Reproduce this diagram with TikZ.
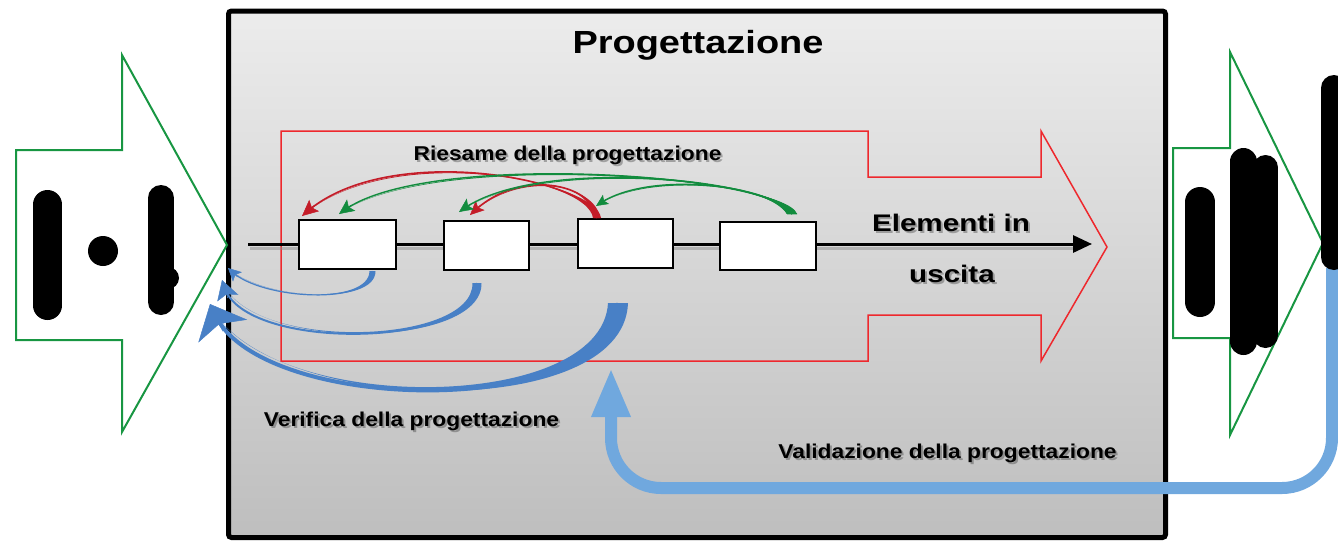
\documentclass[tikz,border=0pt]{standalone}
\usepackage{fontspec}
\setmainfont{Liberation Sans}
\usetikzlibrary{arrows.meta,calc}
\definecolor{gtop}{RGB}{236,236,236}
\definecolor{gbot}{RGB}{190,190,190}
\definecolor{outgreen}{RGB}{24,150,66}
\definecolor{outred}{RGB}{238,40,45}
\definecolor{arred}{RGB}{196,28,40}
\definecolor{argreen}{RGB}{18,140,62}
\definecolor{verblue}{RGB}{72,128,198}
\definecolor{valblue}{RGB}{112,168,222}
\tikzset{
  stepbox/.style={draw=black, line width=2pt, fill=white, inner sep=0pt},
  lbl/.style={font=\bfseries\fontsize{20}{22}\selectfont, xscale=1.14, inner sep=0pt, anchor=base},
  biglbl/.style={font=\bfseries\fontsize{24}{26}\selectfont, xscale=1.234, inner sep=0pt, anchor=base},
  titlelbl/.style={font=\bfseries\fontsize{32}{34}\selectfont, xscale=1.186, inner sep=0pt, anchor=base},
  blob/.style={black, line cap=round},
  outarrow/.style={draw=outgreen, line width=2pt, fill=white, line join=miter},
  redout/.style={draw=outred, line width=1.5pt},
  rarr/.style={arred, fill=arred, line width=1.6pt},
  garr/.style={argreen, fill=argreen, line width=1.4pt},
  varr/.style={verblue, fill=verblue},
}
% tapered curved arrow: style, s1, s2, c1a, c1b, c2, tip, head spec, head length
\newcommand\taparrow[9]{%
  \fill[#1] (#2) .. controls (#4) and (#6) .. (#7) .. controls (#6) and (#5) .. (#3) -- cycle;
  \draw[#1, fill=none, shorten >=0.4*#9pt] ($(#2)!.5!(#3)$) .. controls ($(#4)!.5!(#5)$) and (#6) .. (#7);
  \draw[#1, line width=0.5pt, -{#8}] ($(#7)!#9pt!(#6)$) -- (#7);}
\newcommand\shadowlabel[4]{%
  \node[#2, text=black, opacity=0.28] at ($(#3)+(2,2.5)$) {#4};
  \node[#2] (#1) at (#3) {#4};}
\begin{document}
\begin{tikzpicture}[x=1pt,y=-1pt]
\useasboundingbox (0,0) rectangle (1338,541);

% main grey panel
\path[top color=gtop, bottom color=gbot] (228.5,11) rectangle (1165.5,537.5);
\draw[line width=5pt, rounded corners=3pt] (228.5,11) rectangle (1165.5,537.5);

\node[titlelbl] (title) at (698,53) {Progettazione};

% red outline arrow
\draw[redout] (281,131) -- (868,131) -- (868,177) -- (1041,177) -- (1041,131) -- (1107,247)
  -- (1041,361) -- (1041,315) -- (868,315) -- (868,361) -- (281,361) -- cycle;

% main line
\coordinate (ls) at (248,244);
\coordinate (le) at (1092,244);
\draw[line width=3pt, black!45, opacity=0.5] (250,248.5) -- (1080,248.5);
\draw[line width=3pt, -{Triangle[length=19pt,width=17pt]}] (ls) -- (le);

% process boxes
\node[stepbox, minimum width=97pt, minimum height=49pt] (b1) at (347.5,244.5) {};
\node[stepbox, minimum width=85pt, minimum height=49pt] (b2) at (486.5,245.5) {};
\node[stepbox, minimum width=95pt, minimum height=49pt] (b3) at (625,243.5) {};
\node[stepbox, minimum width=96pt, minimum height=48pt] (b4) at (768,246) {};

% Riesame arrows (red from b3, green from b4)
\taparrow{rarr}{$(b3.north)+(-32,0)$}{$(b3.north)+(-24,0)$}{588,178}{597,181}{390,140}{$(b1.north west)+(4,-3)$}{Stealth[length=16pt,width=15pt,inset=3pt]}{16}
\taparrow{rarr}{$(b3.north)+(-31,0)$}{$(b3.north)+(-25,0)$}{590,182}{596,185}{520,168}{$(b2.north west)+(27,-5)$}{Stealth[length=14pt,width=13pt,inset=3pt]}{14}
\taparrow{garr}{$(b4.north)+(19,-7)$}{$(b4.north)+(29,-7)$}{776,173}{785,177}{428,149}{$(b1.north west)+(41,-5)$}{Stealth[length=15pt,width=14pt,inset=3pt]}{15}
\taparrow{garr}{$(b4.north)+(19,-7)$}{$(b4.north)+(29,-7)$}{771,178}{780,182}{540,155}{$(b2.north west)+(16,-8)$}{Stealth[length=14pt,width=13pt,inset=3pt]}{14}
\taparrow{garr}{$(b4.north)+(19,-7)$}{$(b4.north)+(29,-7)$}{766,183}{775,187}{650,170}{$(b3.north)+(-29,-12)$}{Stealth[length=12pt,width=11pt,inset=2.5pt]}{12}

% Verifica arrows (blue, from boxes back to the input)
\taparrow{varr, line width=1.2pt}{$(b1.south)+(22,1)$}{$(b1.south)+(28,1)$}{369,305}{376,306}{262,300}{228,268}{Stealth[length=13pt,width=13pt,inset=3pt]}{13}
\taparrow{varr, line width=2pt}{$(b2.south)+(-14,12)$}{$(b2.south)+(-5,12)$}{474,346}{483,350}{245,352}{222,280}{Stealth[length=19pt,width=22pt,inset=4pt]}{19}
\taparrow{varr, line width=4pt}{$(b3.south)+(-17,34)$}{$(b3.south)+(3,34)$}{602,415}{624,425}{262,415}{210,304}{Stealth[length=30pt,width=54pt,inset=8pt]}{30}

\shadowlabel{riesame}{lbl}{567.5,160}{Riesame della progettazione}
\shadowlabel{elem}{biglbl}{951,231}{Elementi in}
\shadowlabel{usc}{biglbl}{952,282}{uscita}
\shadowlabel{verif}{lbl}{411.5,426}{Verifica della progettazione}
\shadowlabel{valid}{lbl}{947.5,458}{Validazione della progettazione}

% Validazione arrow
\coordinate (vs) at (1332,268);
\coordinate (vt) at (611,368);
\draw[valblue, line width=12pt, rounded corners=50pt, -{Triangle[length=49pt,width=36pt]}]
  (vs) -- (1332,488) -- (611,488) -- (vt);

% input arrow (left)
\draw[outarrow] (16,150) -- (122,150) -- (122,55) -- (227,245) -- (122,432) -- (122,340) -- (16,340) -- cycle;
\draw[blob, line width=29pt] (47.5,204.5) -- (47.5,305.5);
\fill[black] (103,251) circle (15);
\draw[blob, line width=26pt] (161,198) -- (161,302);
\fill[black] (168,278) circle (11);

% output arrow (right)
\draw[outarrow] (1173,148) -- (1230,148) -- (1230,52) -- (1323,243) -- (1230,435) -- (1230,338) -- (1173,338) -- cycle;
\draw[blob, line width=30pt] (1200,202) -- (1200,302);
\draw[blob, line width=27pt] (1243.5,161.5) -- (1243.5,341.5);
\draw[blob, line width=25pt] (1265.5,167.5) -- (1265.5,335.5);
\draw[blob, line width=26pt] (1334,88) -- (1334,257);
\end{tikzpicture}
\end{document}
